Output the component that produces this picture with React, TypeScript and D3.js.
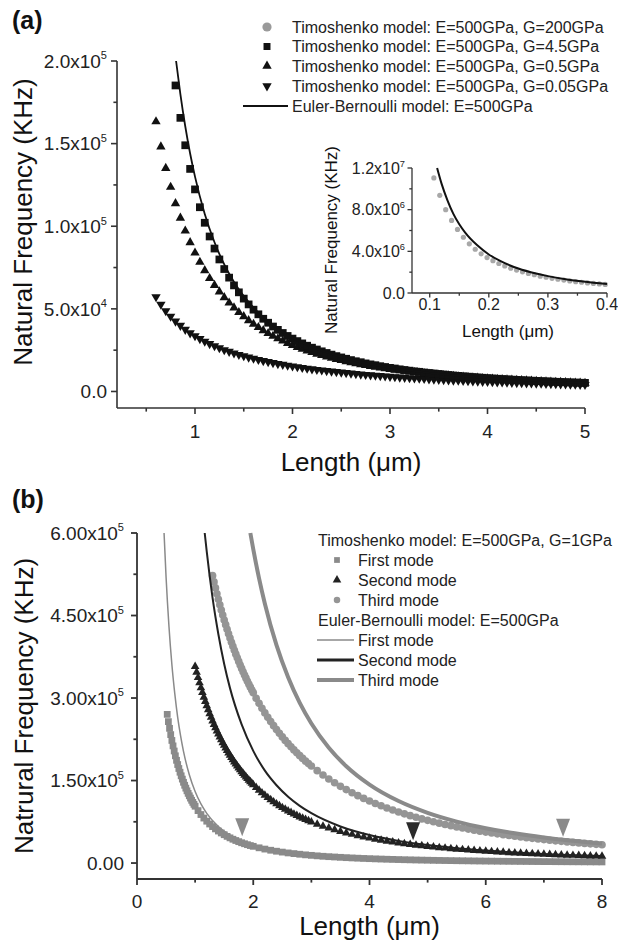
import * as d3 from "d3";

type Pt = [number, number];

const FONT = "'Liberation Sans', Arial, Helvetica, sans-serif";

// ---------- panel (a): length in μm, frequency in 10^3 kHz ----------
const lengthsA = [
  0.6, 0.65, 0.7, 0.75, 0.8, 0.85, 0.9, 0.95,
  1, 1.05, 1.1, 1.15, 1.2, 1.25, 1.3, 1.35, 1.4, 1.45, 1.5, 1.55, 1.6, 1.65, 1.7, 1.75, 1.8, 1.85, 1.9, 1.95,
  2, 2.05, 2.1, 2.15, 2.2, 2.25, 2.3, 2.35, 2.4, 2.45, 2.5, 2.55, 2.6, 2.65, 2.7, 2.75, 2.8, 2.85, 2.9, 2.95,
  3, 3.05, 3.1, 3.15, 3.2, 3.25, 3.3, 3.35, 3.4, 3.45, 3.5, 3.55, 3.6, 3.65, 3.7, 3.75, 3.8, 3.85, 3.9, 3.95,
  4, 4.05, 4.1, 4.15, 4.2, 4.25, 4.3, 4.35, 4.4, 4.45, 4.5, 4.55, 4.6, 4.65, 4.7, 4.75, 4.8, 4.85, 4.9, 4.95,
  5,
];

// G=0.5GPa (up triangles)
const freqG05 = [
  163.3, 148.1, 135.1, 123.7, 113.8, 105.0, 97.2, 90.2,
  83.9, 78.3, 73.2, 68.5, 64.3, 60.4, 56.9, 53.6, 50.7, 47.9, 45.4, 43.0, 40.8, 38.8, 36.9, 35.2, 33.5, 32.0, 30.6, 29.2,
  28.0, 26.8, 25.7, 24.6, 23.7, 22.7, 21.9, 21.0, 20.2, 19.5, 18.8, 18.1, 17.5, 16.9, 16.3, 15.8, 15.3, 14.8, 14.3, 13.9,
  13.4, 13.0, 12.6, 12.3, 11.9, 11.6, 11.2, 10.9, 10.6, 10.3, 10.1, 9.79, 9.53, 9.28, 9.04, 8.82, 8.6, 8.38, 8.18, 7.98,
  7.79, 7.61, 7.43, 7.26, 7.09, 6.93, 6.78, 6.63, 6.48, 6.34, 6.21, 6.08, 5.95, 5.83, 5.71, 5.59, 5.48, 5.37, 5.26, 5.16,
  5.06,
];

// G=0.05GPa (down triangles)
const freqG005 = [
  57.2, 52.7, 48.8, 45.4, 42.5, 39.9, 37.5, 35.4,
  33.6, 31.9, 30.3, 28.9, 27.6, 26.4, 25.2, 24.2, 23.2, 22.3, 21.5, 20.7, 20.0, 19.3, 18.6, 18.0, 17.4, 16.8, 16.3, 15.8,
  15.3, 14.9, 14.4, 14.0, 13.6, 13.2, 12.9, 12.5, 12.2, 11.9, 11.6, 11.3, 11.0, 10.7, 10.4, 10.2, 9.93, 9.7, 9.47, 9.25,
  9.04, 8.83, 8.63, 8.44, 8.25, 8.07, 7.9, 7.73, 7.56, 7.4, 7.25, 7.1, 6.95, 6.81, 6.68, 6.54, 6.42, 6.29, 6.17, 6.05,
  5.93, 5.82, 5.71, 5.61, 5.5, 5.4, 5.3, 5.21, 5.12, 5.02, 4.94, 4.85, 4.77, 4.68, 4.6, 4.53, 4.45, 4.38, 4.3, 4.23,
  4.16,
];

// G=4.5GPa (squares), starts at 0.8 μm
const freqG45 = [
  185.2, 165.6, 149.0, 134.7,
  122.3, 111.5, 102.1, 93.8, 86.5, 79.9, 74.1, 68.9, 64.2, 60.0, 56.2, 52.7, 49.5, 46.7, 44.0, 41.6, 39.3, 37.3, 35.4, 33.6,
  32.0, 30.5, 29.1, 27.7, 26.5, 25.4, 24.3, 23.3, 22.3, 21.4, 20.6, 19.8, 19.0, 18.3, 17.7, 17.0, 16.4, 15.9, 15.3, 14.8,
  14.3, 13.9, 13.4, 13.0, 12.6, 12.2, 11.9, 11.5, 11.2, 10.9, 10.6, 10.3, 10.0, 9.71, 9.45, 9.2, 8.96, 8.73, 8.51, 8.3,
  8.09, 7.9, 7.7, 7.52, 7.34, 7.17, 7.01, 6.85, 6.69, 6.55, 6.4, 6.26, 6.12, 6.0, 5.87, 5.75, 5.63, 5.51, 5.4, 5.29,
  5.19,
];

const eulerA: Pt[] = [
  [0.806, 200], [0.85, 180], [0.9, 160.5], [0.95, 144], [1, 130], [1.1, 107.4], [1.2, 90.3], [1.3, 76.9],
  [1.4, 66.3], [1.6, 50.8], [1.8, 40.1], [2, 32.5], [2.5, 20.8], [3, 14.4], [3.5, 10.6], [4, 8.1], [4.5, 6.4], [5, 5.2],
];

const legendLabelsA = [
  "Timoshenko model: E=500GPa, G=200GPa",
  "Timoshenko model: E=500GPa, G=4.5GPa",
  "Timoshenko model: E=500GPa, G=0.5GPa",
  "Timoshenko model: E=500GPa, G=0.05GPa",
  "Euler-Bernoulli model: E=500GPa",
];

const xTicksA = [1, 2, 3, 4, 5];
const xMinorA = [0.5, 1.5, 2.5, 3.5, 4.5];
const yTicksA = [0, 50, 100, 150, 200];
const yMinorA = [25, 75, 125, 175];
const yLabelsA: [string, string][] = [["0.0", ""], ["5.0x10", "4"], ["1.0x10", "5"], ["1.5x10", "5"], ["2.0x10", "5"]];

// ---------- inset: length in μm, frequency in 10^6 kHz ----------
const insetLengths = [
  0.107, 0.117, 0.127, 0.137, 0.147, 0.157, 0.167, 0.177, 0.187, 0.197, 0.207, 0.217, 0.227, 0.237, 0.247,
  0.257, 0.267, 0.277, 0.287, 0.297, 0.307, 0.317, 0.327, 0.337, 0.347, 0.357, 0.367, 0.377, 0.387, 0.397,
];
const insetG200 = [
  11.05, 9.38, 8.0, 6.97, 6.1, 5.35, 4.72, 4.2, 3.76, 3.4, 3.1, 2.83, 2.6, 2.38, 2.2,
  2.03, 1.88, 1.75, 1.62, 1.51, 1.41, 1.32, 1.24, 1.16, 1.09, 1.03, 0.97, 0.92, 0.87, 0.82,
];
const insetEuler: Pt[] = [
  [0.1125, 12.0], [0.12, 10.5], [0.13, 8.9], [0.14, 7.6], [0.15, 6.6], [0.16, 5.8], [0.18, 4.6], [0.2, 3.7],
  [0.22, 3.05], [0.25, 2.35], [0.28, 1.87], [0.3, 1.62], [0.33, 1.33], [0.36, 1.11], [0.4, 0.86],
];
const xTicksIn = [0.1, 0.2, 0.3, 0.4];
const xMinorIn = [0.15, 0.25, 0.35];
const yTicksIn = [0, 4, 8, 12];
const yMinorIn = [2, 6, 10];
const yLabelsIn: [string, string][] = [["0.0", ""], ["4.0x10", "6"], ["8.0x10", "6"], ["1.2x10", "7"]];

// ---------- panel (b): length in μm, frequency in 10^3 kHz ----------
const timoFirst: Pt[] = [
  [0.52, 270.3], [0.54, 257.1], [0.56, 244.9], [0.58, 233.5], [0.6, 222.9], [0.62, 213], [0.64, 203.7], [0.66, 195],
  [0.68, 186.8], [0.7, 179.1], [0.72, 171.9], [0.74, 165.1], [0.76, 158.6], [0.78, 152.6], [0.8, 146.8], [0.82, 141.4],
  [0.84, 136.2], [0.86, 131.3], [0.88, 126.7], [0.9, 122.3], [0.92, 118.1], [0.94, 114.1], [0.96, 110.3], [0.98, 106.7],
  [1, 103.3], [1.05, 95.3], [1.1, 88.2], [1.15, 81.8], [1.2, 76.1], [1.25, 71], [1.3, 66.3], [1.35, 62.1], [1.4, 58.2],
  [1.45, 54.7], [1.5, 51.5], [1.55, 48.5], [1.6, 45.8], [1.65, 43.3], [1.7, 41], [1.75, 38.9], [1.8, 36.9], [1.85, 35.1],
  [1.9, 33.4], [1.95, 31.8], [2, 30.4], [2.1, 27.7], [2.2, 25.4], [2.3, 23.3], [2.4, 21.5], [2.5, 19.9], [2.6, 18.4],
  [2.7, 17.2], [2.8, 16], [2.9, 14.9], [3, 14], [3.1, 13.1], [3.2, 12.3], [3.3, 11.6], [3.4, 11], [3.5, 10.4], [3.6, 9.81],
  [3.7, 9.3], [3.8, 8.83], [3.9, 8.39], [4, 7.98], [4.1, 7.6], [4.2, 7.25], [4.3, 6.92], [4.4, 6.62], [4.5, 6.33],
  [4.6, 6.06], [4.7, 5.81], [4.8, 5.57], [4.9, 5.35], [5, 5.14], [5.1, 4.94], [5.2, 4.76], [5.3, 4.58], [5.4, 4.41],
  [5.5, 4.26], [5.6, 4.11], [5.7, 3.97], [5.8, 3.83], [5.9, 3.7], [6, 3.58], [6.1, 3.47], [6.2, 3.36], [6.3, 3.25],
  [6.4, 3.15], [6.5, 3.06], [6.6, 2.96], [6.7, 2.88], [6.8, 2.79], [6.9, 2.71], [7, 2.64], [7.1, 2.56], [7.2, 2.49],
  [7.3, 2.43], [7.4, 2.36], [7.5, 2.3], [7.6, 2.24], [7.7, 2.18], [7.8, 2.13], [7.9, 2.07], [8, 2.02],
];

const timoSecond: Pt[] = [
  [1, 357.4], [1.025, 347], [1.05, 337.1], [1.075, 327.6], [1.1, 318.5], [1.125, 309.9], [1.15, 301.6], [1.175, 293.6],
  [1.2, 286], [1.225, 278.7], [1.25, 271.6], [1.275, 264.8], [1.3, 258.3], [1.325, 252], [1.35, 246], [1.375, 240.2],
  [1.4, 234.6], [1.425, 229.1], [1.45, 223.9], [1.475, 218.8], [1.5, 213.9], [1.525, 209.2], [1.55, 204.6], [1.575, 200.2],
  [1.6, 195.9], [1.625, 191.8], [1.65, 187.7], [1.675, 183.8], [1.7, 180], [1.725, 176.4], [1.75, 172.8], [1.775, 169.4],
  [1.8, 166], [1.825, 162.7], [1.85, 159.6], [1.875, 156.5], [1.9, 153.5], [1.925, 150.6], [1.95, 147.7], [1.975, 145],
  [2, 142.3], [2.05, 137.2], [2.1, 132.3], [2.15, 127.6], [2.2, 123.2], [2.25, 119], [2.3, 115], [2.35, 111.2],
  [2.4, 107.6], [2.45, 104.1], [2.5, 100.8], [2.55, 97.7], [2.6, 94.7], [2.65, 91.8], [2.7, 89], [2.75, 86.4],
  [2.8, 83.9], [2.85, 81.5], [2.9, 79.1], [2.95, 76.9], [3, 74.8], [3.1, 70.7], [3.2, 67], [3.3, 63.6], [3.4, 60.4],
  [3.5, 57.4], [3.6, 54.6], [3.7, 52.1], [3.8, 49.7], [3.9, 47.4], [4, 45.3], [4.1, 43.4], [4.2, 41.5], [4.3, 39.8],
  [4.4, 38.2], [4.5, 36.6], [4.6, 35.2], [4.7, 33.8], [4.8, 32.5], [4.9, 31.3], [5, 30.2], [5.1, 29.1], [5.2, 28],
  [5.3, 27.1], [5.4, 26.1], [5.5, 25.2], [5.6, 24.4], [5.7, 23.6], [5.8, 22.8], [5.9, 22.1], [6, 21.4], [6.1, 20.8],
  [6.2, 20.1], [6.3, 19.5], [6.4, 18.9], [6.5, 18.4], [6.6, 17.9], [6.7, 17.4], [6.8, 16.9], [6.9, 16.4], [7, 16],
  [7.1, 15.5], [7.2, 15.1], [7.3, 14.7], [7.4, 14.3], [7.5, 14], [7.6, 13.6], [7.7, 13.3], [7.8, 13], [7.9, 12.6], [8, 12.3],
];

const timoThird: Pt[] = [
  [1.3, 522.4], [1.325, 511.1], [1.35, 500.2], [1.375, 489.6], [1.4, 479.4], [1.425, 469.6], [1.45, 460.1], [1.475, 450.8],
  [1.5, 441.9], [1.525, 433.3], [1.55, 425], [1.575, 416.9], [1.6, 409], [1.625, 401.4], [1.65, 394], [1.675, 386.8],
  [1.7, 379.8], [1.725, 373], [1.75, 366.5], [1.775, 360], [1.8, 353.8], [1.825, 347.7], [1.85, 341.8], [1.875, 336.1],
  [1.9, 330.5], [1.925, 325], [1.95, 319.7], [1.975, 314.5], [2, 309.4], [2.05, 299.6], [2.1, 290.3], [2.15, 281.4],
  [2.2, 273], [2.25, 264.9], [2.3, 257.1], [2.35, 249.7], [2.4, 242.6], [2.45, 235.8], [2.5, 229.3], [2.55, 223],
  [2.6, 217], [2.65, 211.2], [2.7, 205.7], [2.75, 200.3], [2.8, 195.2], [2.85, 190.2], [2.9, 185.4], [2.95, 180.8],
  [3, 176.4], [3.1, 168], [3.2, 160.1], [3.3, 152.8], [3.4, 145.9], [3.5, 139.5], [3.6, 133.5], [3.7, 127.8],
  [3.8, 122.5], [3.9, 117.5], [4, 112.8], [4.1, 108.3], [4.2, 104.1], [4.3, 100.1], [4.4, 96.4], [4.5, 92.8],
  [4.6, 89.4], [4.7, 86.2], [4.8, 83.2], [4.9, 80.3], [5, 77.6], [5.1, 75], [5.2, 72.5], [5.3, 70.1], [5.4, 67.9],
  [5.5, 65.7], [5.6, 63.7], [5.7, 61.7], [5.8, 59.8], [5.9, 58], [6, 56.3], [6.1, 54.7], [6.2, 53.1], [6.3, 51.6],
  [6.4, 50.1], [6.5, 48.8], [6.6, 47.4], [6.7, 46.1], [6.8, 44.9], [6.9, 43.7], [7, 42.6], [7.1, 41.5], [7.2, 40.4],
  [7.3, 39.4], [7.4, 38.4], [7.5, 37.5], [7.6, 36.6], [7.7, 35.7], [7.8, 34.9], [7.9, 34], [8, 33.2],
];

const eulerFirst: Pt[] = [
  [0.4655, 600], [0.5, 520], [0.55, 430], [0.6, 361], [0.65, 308], [0.7, 265], [0.75, 231], [0.8, 203], [0.9, 160.5],
  [1, 130], [1.1, 107.4], [1.2, 90.3], [1.4, 66.3], [1.6, 50.8], [1.8, 40.1], [2, 32.5], [2.5, 20.8], [3, 14.4],
  [3.5, 10.6], [4, 8.1], [5, 5.2], [6, 3.6], [7, 2.65], [8, 2.03],
];
const eulerSecond: Pt[] = [
  [1.165, 600], [1.2, 566], [1.3, 482], [1.4, 416], [1.5, 362], [1.6, 318], [1.8, 252], [2, 204], [2.2, 168],
  [2.4, 141.5], [2.6, 120.6], [2.8, 104], [3, 90.6], [3.5, 66.5], [4, 50.9], [4.5, 40.2], [5, 32.6], [5.5, 26.9],
  [6, 22.6], [7, 16.6], [8, 12.7],
];
const eulerThird: Pt[] = [
  [1.95, 600], [2, 570.5], [2.1, 517.5], [2.2, 471.5], [2.4, 396], [2.6, 337.6], [2.8, 291], [3, 253.6], [3.3, 209.5],
  [3.6, 176], [4, 142.6], [4.5, 112.7], [5, 91.3], [5.5, 75.4], [6, 63.4], [6.5, 54], [7, 46.6], [7.5, 40.6], [8, 35.7],
];

// arrow heads pointing at the mode curves
const arrowMarks: Pt[] = [[1.81, 65], [4.75, 58], [7.33, 64]];
const arrowColors = ["#8a8a8a", "#2a2a2a", "#8a8a8a"];

const legendHeadersB = ["Timoshenko model: E=500GPa, G=1GPa", "Euler-Bernoulli model: E=500GPa"];
const modeNames = ["First mode", "Second mode", "Third mode"];

const xTicksB = [0, 2, 4, 6, 8];
const xMinorB = [1, 3, 5, 7];
const yTicksB = [0, 150, 300, 450, 600];
const yMinorB = [75, 225, 375, 525];
const yLabelsB: [string, string][] = [["0.00", ""], ["1.50x10", "5"], ["3.00x10", "5"], ["4.50x10", "5"], ["6.00x10", "5"]];

// ---------- helpers ----------
const sym = (type: d3.SymbolType, size: number) => d3.symbol().type(type).size(size)() as string;
const SQ_A = sym(d3.symbolSquare, 60);
const TRI_A = sym(d3.symbolTriangle, 38);
const SQ_B = sym(d3.symbolSquare, 46);
const TRI_B = sym(d3.symbolTriangle, 32);
const CIR_B = sym(d3.symbolCircle, 46);

function Axes({ x, y, xTicks, xLabels, xMinor, yTicks, yLabels, yMinor, font, tick, labelGap, xLabelDy, stroke }: any) {
  const [x0, x1] = x.range();
  const [y0, y1] = y.range();
  const minor = tick * 0.6;
  return (
    <g fontFamily={FONT} fill="#222">
      <line x1={x0} x2={x1} y1={y0} y2={y0} stroke="#333" strokeWidth={stroke} />
      <line x1={x0} x2={x0} y1={y0} y2={y1} stroke="#333" strokeWidth={stroke} />
      {xTicks.map((t: number, i: number) => (
        <g key={"xt" + i}>
          <line x1={x(t)} x2={x(t)} y1={y0} y2={y0 + tick} stroke="#333" strokeWidth={stroke} />
          <text x={x(t)} y={y0 + xLabelDy} fontSize={font} textAnchor="middle">{xLabels[i]}</text>
        </g>
      ))}
      {xMinor.map((t: number, i: number) => (
        <line key={"xm" + i} x1={x(t)} x2={x(t)} y1={y0} y2={y0 + minor} stroke="#333" strokeWidth={stroke} />
      ))}
      {yTicks.map((t: number, i: number) => (
        <g key={"yt" + i}>
          <line x1={x0 - tick} x2={x0} y1={y(t)} y2={y(t)} stroke="#333" strokeWidth={stroke} />
          <text x={x0 - labelGap} y={y(t)} dy="0.36em" fontSize={font} textAnchor="end">
            {yLabels[i][0]}
            {yLabels[i][1] && (
              <tspan dy={-font * 0.45} fontSize={font * 0.58}>{yLabels[i][1]}</tspan>
            )}
          </text>
        </g>
      ))}
      {yMinor.map((t: number, i: number) => (
        <line key={"ym" + i} x1={x0 - minor} x2={x0} y1={y(t)} y2={y(t)} stroke="#333" strokeWidth={stroke} />
      ))}
    </g>
  );
}

function Markers({ pts, x, y, d, fill, flip }: any) {
  return (
    <g fill={fill}>
      {pts.map((p: Pt, i: number) => (
        <path key={i} d={d} transform={`translate(${x(p[0])},${y(p[1])})${flip ? " rotate(180)" : ""}`} />
      ))}
    </g>
  );
}

export default function App() {
  const W = 618;
  const H = 941;

  // panel (a)
  const xA = d3.scaleLinear().domain([0.2, 5]).range([117, 585]);
  const yA = d3.scaleLinear().domain([-10, 200]).range([408, 61]);
  const lineA = d3.line<Pt>().x((d) => xA(d[0])).y((d) => yA(d[1])).curve(d3.curveMonotoneX);
  const triPts: Pt[] = lengthsA.map((l, i) => [l, freqG05[i]]);
  const invPts: Pt[] = lengthsA.map((l, i) => [l, freqG005[i]]);
  const sqOffset = lengthsA.length - freqG45.length;
  const sqPts: Pt[] = freqG45.map((v, i) => [lengthsA[i + sqOffset], v]);

  // inset
  const xIn = d3.scaleLinear().domain([0.07, 0.4]).range([412, 607]);
  const yIn = d3.scaleLinear().domain([0, 12]).range([293, 168]);
  const lineIn = d3.line<Pt>().x((d) => xIn(d[0])).y((d) => yIn(d[1])).curve(d3.curveMonotoneX);
  const g200Pts: Pt[] = insetLengths.map((l, i) => [l, insetG200[i]]);

  // panel (b)
  const xB = d3.scaleLinear().domain([0, 8]).range([137, 602]);
  const yB = d3.scaleLinear().domain([-29, 600]).range([879, 533]);
  const lineB = d3.line<Pt>().x((d) => xB(d[0])).y((d) => yB(d[1])).curve(d3.curveMonotoneX);

  const legendRowsA = [27, 46.5, 66, 86, 106];
  const legSymX = 267;
  const legTextX = 292;

  const legendRowsB = [540, 560, 580, 600, 620, 640, 660, 680];

  return (
    <svg width={W} height={H} style={{ position: "absolute", left: 0, top: 0, background: "#fff" }} fontFamily={FONT}>
      <rect width={W} height={H} fill="#fff" />

      {/* ===== (a) ===== */}
      <text x={12} y={29} fontSize={25} fontWeight="bold" fill="#111">(a)</text>

      <Axes
        x={xA} y={yA}
        xTicks={xTicksA} xLabels={xTicksA.map(String)} xMinor={xMinorA}
        yTicks={yTicksA} yLabels={yLabelsA} yMinor={yMinorA}
        font={19} tick={6} labelGap={10} xLabelDy={30} stroke={1.6}
      />
      <text x={(117 + 585) / 2} y={471} fontSize={26} textAnchor="middle" fill="#111">Length (μm)</text>
      <text transform="translate(32,222) rotate(-90)" fontSize={26} textAnchor="middle" fill="#111">
        Natural Frequency (KHz)
      </text>

      <Markers pts={invPts} x={xA} y={yA} d={TRI_A} fill="#111" flip />
      <Markers pts={triPts} x={xA} y={yA} d={TRI_A} fill="#111" />
      <Markers pts={sqPts} x={xA} y={yA} d={SQ_A} fill="#111" />
      <path d={lineA(eulerA) as string} fill="none" stroke="#111" strokeWidth={1.8} />

      {/* legend (a) */}
      <g fontSize={16} fill="#222">
        <circle cx={legSymX} cy={legendRowsA[0]} r={4.6} fill="#9a9a9a" />
        <path d={SQ_A} transform={`translate(${legSymX},${legendRowsA[1]}) scale(0.9)`} fill="#111" />
        <path d={TRI_A} transform={`translate(${legSymX},${legendRowsA[2]})`} fill="#111" />
        <path d={TRI_A} transform={`translate(${legSymX},${legendRowsA[3]}) rotate(180)`} fill="#111" />
        <line x1={243} x2={288} y1={legendRowsA[4]} y2={legendRowsA[4]} stroke="#111" strokeWidth={1.8} />
        {legendLabelsA.map((t, i) => (
          <text key={i} x={legTextX} y={legendRowsA[i]} dy="0.36em">{t}</text>
        ))}
      </g>

      {/* inset */}
      <Axes
        x={xIn} y={yIn}
        xTicks={xTicksIn} xLabels={xTicksIn.map((d) => d.toFixed(1))} xMinor={xMinorIn}
        yTicks={yTicksIn} yLabels={yLabelsIn} yMinor={yMinorIn}
        font={16} tick={4.5} labelGap={7} xLabelDy={17} stroke={1.3}
      />
      <g fill="#a8a8a8">
        {g200Pts.map((p, i) => (
          <circle key={i} cx={xIn(p[0])} cy={yIn(p[1])} r={2.6} />
        ))}
      </g>
      <path d={lineIn(insetEuler) as string} fill="none" stroke="#111" strokeWidth={2} />
      <text x={508} y={337} fontSize={17} textAnchor="middle" fill="#111">Length (μm)</text>
      <text transform="translate(337,240) rotate(-90)" fontSize={17} textAnchor="middle" fill="#111">
        Natural Frequency (KHz)
      </text>

      {/* ===== (b) ===== */}
      <text x={12} y={508} fontSize={25} fontWeight="bold" fill="#111">(b)</text>

      <Axes
        x={xB} y={yB}
        xTicks={xTicksB} xLabels={xTicksB.map(String)} xMinor={xMinorB}
        yTicks={yTicksB} yLabels={yLabelsB} yMinor={yMinorB}
        font={19} tick={6} labelGap={13} xLabelDy={29} stroke={1.8}
      />
      <text x={(137 + 602) / 2} y={935} fontSize={26} textAnchor="middle" fill="#111">Length (μm)</text>
      <text transform="translate(33,706) rotate(-90)" fontSize={26} textAnchor="middle" fill="#111">
        Natrural Frequency (KHz)
      </text>

      <Markers pts={timoFirst} x={xB} y={yB} d={SQ_B} fill="#8a8a8a" />
      <Markers pts={timoThird} x={xB} y={yB} d={CIR_B} fill="#959595" />
      <Markers pts={timoSecond} x={xB} y={yB} d={TRI_B} fill="#222" />
      <path d={lineB(eulerFirst) as string} fill="none" stroke="#8a8a8a" strokeWidth={1.5} />
      <path d={lineB(eulerSecond) as string} fill="none" stroke="#222" strokeWidth={2} />
      <path d={lineB(eulerThird) as string} fill="none" stroke="#8a8a8a" strokeWidth={4} />

      {arrowMarks.map((p, i) => (
        <path
          key={i}
          d="M-7,-9L7,-9L0,9Z"
          transform={`translate(${xB(p[0])},${yB(p[1])})`}
          fill={arrowColors[i]}
        />
      ))}

      {/* legend (b) */}
      <g fontSize={16} fill="#222">
        <text x={318} y={legendRowsB[0]} dy="0.36em">{legendHeadersB[0]}</text>
        <path d={SQ_B} transform={`translate(337,${legendRowsB[1]}) scale(0.85)`} fill="#8a8a8a" />
        <path d={TRI_B} transform={`translate(337,${legendRowsB[2]})`} fill="#222" />
        <path d={CIR_B} transform={`translate(337,${legendRowsB[3]}) scale(0.85)`} fill="#959595" />
        <text x={318} y={legendRowsB[4]} dy="0.36em">{legendHeadersB[1]}</text>
        <line x1={317} x2={354} y1={legendRowsB[5]} y2={legendRowsB[5]} stroke="#8a8a8a" strokeWidth={1.5} />
        <line x1={317} x2={354} y1={legendRowsB[6]} y2={legendRowsB[6]} stroke="#222" strokeWidth={3} />
        <line x1={317} x2={354} y1={legendRowsB[7]} y2={legendRowsB[7]} stroke="#8a8a8a" strokeWidth={4} />
        {modeNames.map((m, i) => (
          <text key={"t" + i} x={358} y={legendRowsB[1 + i]} dy="0.36em">{m}</text>
        ))}
        {modeNames.map((m, i) => (
          <text key={"e" + i} x={358} y={legendRowsB[5 + i]} dy="0.36em">{m}</text>
        ))}
      </g>
    </svg>
  );
}
